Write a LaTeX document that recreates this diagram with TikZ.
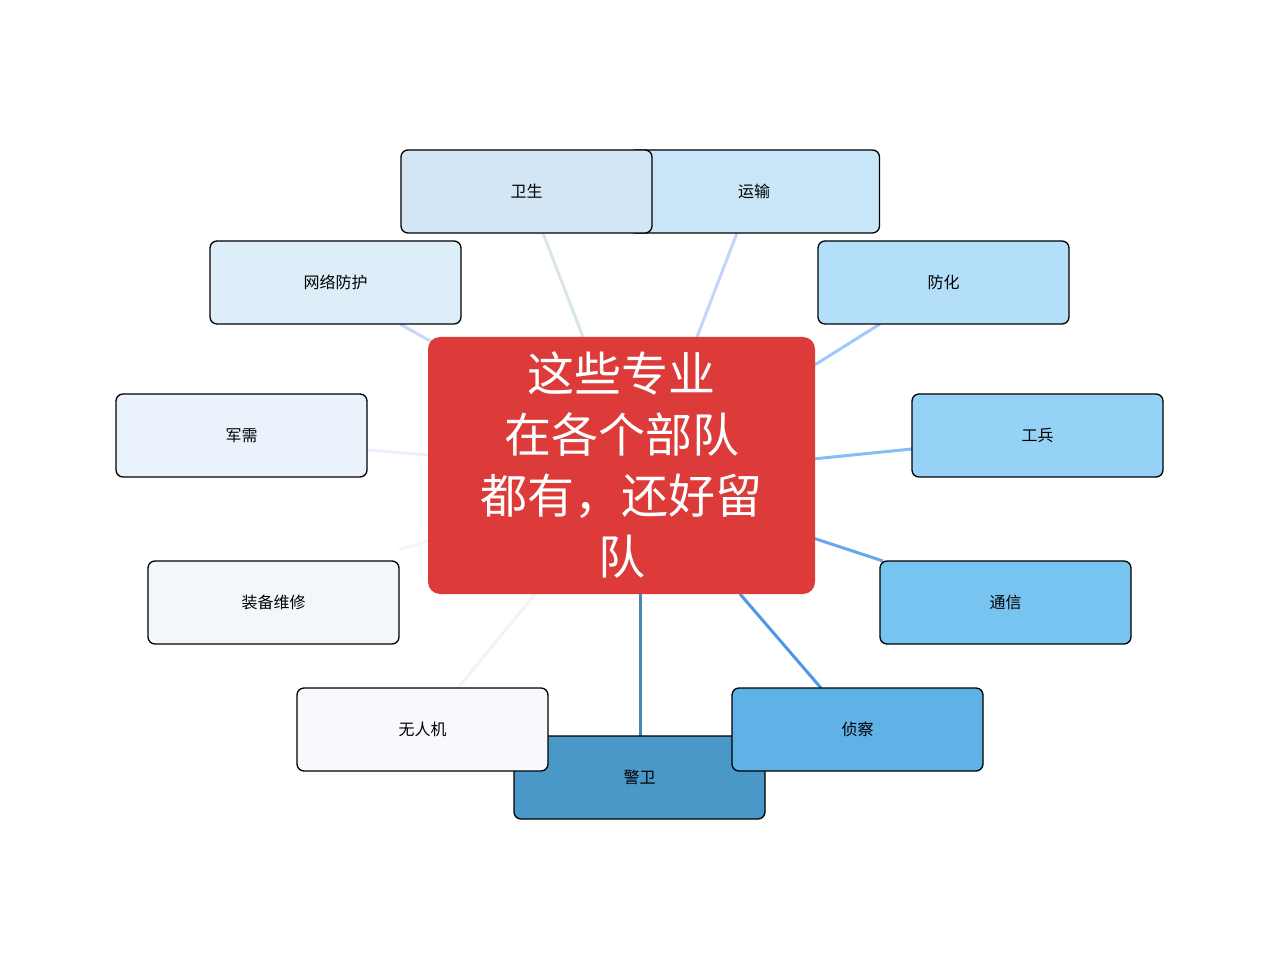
\documentclass[tikz,border=0pt]{standalone}
\usepackage{fontspec}
\setmainfont{Noto Sans CJK SC}
\begin{document}
\begin{tikzpicture}[x=1pt,y=-1pt,
  box/.style={draw=black,line width=1.3pt,rounded corners=7pt,minimum width=251pt,minimum height=83pt,inner sep=0pt,font=\fontsize{16}{18}\selectfont},
  conn/.style={line width=3pt}]
\useasboundingbox[fill=white] (0,0) rectangle (1280,957);
\definecolor{cA}{HTML}{D2E6F5}\definecolor{cB}{HTML}{C8E6F8}\definecolor{cC}{HTML}{DDEEF8}
\definecolor{cD}{HTML}{B3DFFA}\definecolor{cE}{HTML}{EAF3FB}\definecolor{cF}{HTML}{96D2F5}
\definecolor{cG}{HTML}{F3F7FB}\definecolor{cH}{HTML}{78C4F0}\definecolor{cI}{HTML}{F7F9FC}
\definecolor{cJ}{HTML}{5EB2E6}\definecolor{cK}{HTML}{4A98C8}\definecolor{cR}{HTML}{DC3B3A}
% connector endpoints
\coordinate (p1) at (543,233); \coordinate (q1) at (583,337);
\coordinate (p2) at (737,233); \coordinate (q2) at (697,337);
\coordinate (p3) at (400,324); \coordinate (q3) at (432,342);
\coordinate (p4) at (880,324); \coordinate (q4) at (813,366);
\coordinate (p5) at (367,450); \coordinate (q5) at (430,455);
\coordinate (p6) at (912,449); \coordinate (q6) at (813,459);
\coordinate (p7) at (399,550); \coordinate (q7) at (430,540);
\coordinate (p8) at (883,561); \coordinate (q8) at (813,538);
\coordinate (p9) at (458,688); \coordinate (q9) at (535,594);
\coordinate (p10) at (821,688); \coordinate (q10) at (740,594);
\coordinate (p11) at (640,736); \coordinate (q11) at (640,594);
\draw[conn,cA!80!gray!60] (p1)--(q1);
\draw[conn,cB!85!blue!70] (p2)--(q2);
\draw[conn,cC!90!blue] (p3)--(q3);
\draw[conn,cD!90!blue] (p4)--(q4);
\draw[conn,cE] (p5)--(q5);
\draw[conn,cF!90!blue] (p6)--(q6);
\draw[conn,cG] (p7)--(q7);
\draw[conn,cH!85!blue] (p8)--(q8);
\draw[conn,cI!95!gray] (p9)--(q9);
\draw[conn,cJ!85!blue] (p10)--(q10);
\draw[conn,cK!90!black] (p11)--(q11);
% boxes
\node[box,fill=cB] (ys) at (754,191.5) {运输};
\node[box,fill=cA] (ws) at (526.5,191.5) {卫生};
\node[box,fill=cC] (wl) at (335.5,282.5) {网络防护};
\node[box,fill=cD] (fh) at (943.5,282.5) {防化};
\node[box,fill=cE] (jx) at (241.5,435.5) {军需};
\node[box,fill=cF] (gb) at (1037.5,435.5) {工兵};
\node[box,fill=cG] (zb) at (273.5,602.5) {装备维修};
\node[box,fill=cH] (tx) at (1005.5,602.5) {通信};
\node[box,fill=cK] (jw) at (639.5,777.5) {警卫};
\node[box,fill=cI] (wr) at (422.5,729.5) {无人机};
\node[box,fill=cJ] (zc) at (857.5,729.5) {侦察};
\node[fill=cR,rounded corners=12pt,minimum width=387pt,minimum height=257pt,inner sep=0pt,text=white,align=center,font=\fontsize{47}{61}\selectfont] (c) at (621.5,465.5) {这些专业\\在各个部队\\都有，还好留\\队};
\end{tikzpicture}
\end{document}
